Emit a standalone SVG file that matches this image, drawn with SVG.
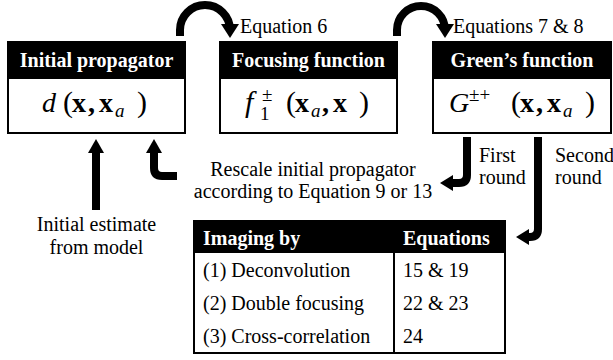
<svg xmlns="http://www.w3.org/2000/svg" width="613" height="360" viewBox="0 0 613 360" font-family="'Liberation Serif', 'Times New Roman', Tinos, 'DejaVu Serif', serif">
<style>
.box{fill:#fff;stroke:#000;stroke-width:2}
.hdr{fill:#000;stroke:#000;stroke-width:2}
text{font-family:'Liberation Serif','Times New Roman',Tinos,'DejaVu Serif',serif}
.ht{font-weight:bold;font-size:20px;fill:#fff}
.t{font-size:20px;fill:#000}
.m{font-size:28px;fill:#000}
.i{font-style:italic}
.b{font-weight:bold}
.p{font-size:30px}
.s{font-size:19px}
.conn{fill:none;stroke:#000;stroke-width:8}
.head{fill:#000}
</style>
<rect width="613" height="360" fill="#fff"/>
<g id="initial-propagator">
<rect class="box" x="8" y="42" width="177" height="91"/>
<rect class="hdr" x="8" y="42" width="177" height="36"/>
<text class="ht" x="96.5" y="67" text-anchor="middle">Initial propagator</text>
<text class="m" y="112"><tspan class="i" x="42">d</tspan><tspan class="p" x="63">(</tspan><tspan class="b" x="72">x</tspan><tspan class="b" x="88">,</tspan><tspan class="b" x="99">x</tspan><tspan class="i s" x="115" y="117">a</tspan><tspan class="p" x="137" y="112">)</tspan></text>
</g>
<g id="focusing-function">
<rect class="box" x="220" y="42" width="177" height="91"/>
<rect class="hdr" x="220" y="42" width="177" height="36"/>
<text class="ht" x="308.5" y="67" text-anchor="middle">Focusing function</text>
<text class="m" y="112"><tspan class="i p" x="245">f</tspan><tspan class="s" x="262" y="101">±</tspan><tspan class="s" x="260" y="120">1</tspan><tspan class="p" x="286" y="112">(</tspan><tspan class="b" x="295">x</tspan><tspan class="i s" x="311" y="117">a</tspan><tspan class="b" x="322" y="112">,</tspan><tspan class="b" x="333">x</tspan><tspan class="p" x="359">)</tspan></text>
</g>
<g id="greens-function">
<rect class="box" x="433" y="42" width="178" height="91"/>
<rect class="hdr" x="433" y="42" width="178" height="36"/>
<text class="ht" x="522" y="67" text-anchor="middle">Green’s function</text>
<text class="m" y="112"><tspan class="i" x="449">G</tspan><tspan class="s" x="469" y="101">±+</tspan><tspan class="p" x="511" y="112">(</tspan><tspan class="b" x="520">x</tspan><tspan class="b" x="536">,</tspan><tspan class="b" x="547">x</tspan><tspan class="i s" x="563" y="117">a</tspan><tspan class="p" x="585" y="112">)</tspan></text>
</g>
<g id="imaging-table">
<rect class="box" x="194" y="221" width="311" height="132"/>
<rect class="hdr" x="194" y="221" width="311" height="31"/>
<line x1="394" y1="252" x2="394" y2="353" stroke="#000" stroke-width="2"/>
<text class="ht" x="203" y="245">Imaging by</text>
<text class="ht" x="403" y="245">Equations</text>
<text class="t" x="203" y="277">(1) Deconvolution</text>
<text class="t" x="203" y="310">(2) Double focusing</text>
<text class="t" x="203" y="343">(3) Cross-correlation</text>
<text class="t" x="403" y="277">15 &amp; 19</text>
<text class="t" x="403" y="310">22 &amp; 23</text>
<text class="t" x="403" y="343">24</text>
</g>
<g id="labels">
<text class="t" x="240" y="33">Equation 6</text>
<text class="t" x="453" y="33">Equations 7 &amp; 8</text>
<text class="t" x="313" y="176" text-anchor="middle">Rescale initial propagator</text>
<text class="t" x="313" y="198" text-anchor="middle">according to Equation 9 or 13</text>
<text class="t" x="479" y="162">First</text>
<text class="t" x="479" y="184">round</text>
<text class="t" x="555" y="162">Second</text>
<text class="t" x="555" y="184">round</text>
<text class="t" x="96.5" y="231" text-anchor="middle">Initial estimate</text>
<text class="t" x="96.5" y="254" text-anchor="middle">from model</text>
</g>
<g id="connectors">
<path class="conn" d="M180,36 L180,30 A25,25 0 0 1 230,30 L230,27"/>
<polygon class="head" points="221,24 239,24 230,38"/>
<path class="conn" d="M397,36 L397,30 A24,24 0 0 1 445,30 L445,27"/>
<polygon class="head" points="436,24 454,24 445,38"/>
<path class="conn" d="M96,210 L96,150"/>
<polygon class="head" points="88,153 104,153 96,139"/>
<path class="conn" d="M154,150 L154,168 Q154,176 162,176 L177,176"/>
<polygon class="head" points="146,153 162,153 154,139"/>
<path class="conn" d="M467,137 L467,175 Q467,183 459,183 L450,183"/>
<polygon class="head" points="453,175 453,191 440,183"/>
<path class="conn" d="M538,137 L538,229 Q538,237 530,237 L525,237"/>
<polygon class="head" points="529,229 529,245 516,237"/>
</g>
</svg>
